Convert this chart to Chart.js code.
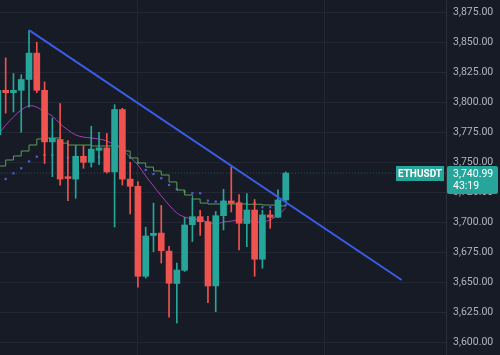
<!DOCTYPE html>
<html>
<head>
<meta charset="utf-8">
<script src="https://cdn.jsdelivr.net/npm/chart.js@4.4.1/dist/chart.umd.min.js"></script>
<style>
  html, body { margin: 0; padding: 0; background: #171b26; }
  #wrap { width: 500px; height: 355px; }
</style>
</head>
<body>
<div id="wrap"><canvas id="chart" width="500" height="355"></canvas></div>
<script>
const symbol = "ETHUSDT";
const countdown = "43:19";

// hourly candles, index 0 is partly cut off on the left
const opens  = [3773, 3810, 3808, 3810, 3819, 3841, 3810, 3767, 3769, 3738, 3736, 3755, 3750, 3760, 3762, 3742, 3794, 3736, 3730, 3655,
                3689, 3691, 3676, 3649, 3660, 3698, 3704.7, 3700.5, 3647, 3705.5, 3717.75, 3716.3, 3699, 3710.25, 3669.2, 3706.1, 3704.2, 3718.6];
const highs  = [3815, 3837, 3824, 3823, 3860, 3850, 3817, 3787, 3799, 3768, 3764, 3764, 3780, 3775, 3774, 3798, 3795, 3750, 3734, 3696,
                3716, 3714, 3680, 3666, 3704, 3720, 3710, 3705, 3709, 3727.5, 3746, 3723, 3724, 3719, 3710, 3710, 3727, 3742];
const lows   = [3766, 3791, 3792, 3775, 3796, 3808, 3749, 3738, 3731, 3718, 3720, 3745, 3746, 3748, 3741, 3696, 3731, 3707, 3646, 3653.5,
                3675.5, 3666, 3621, 3616, 3659, 3684, 3689, 3633, 3625.5, 3693.6, 3708.6, 3677, 3679.7, 3655, 3661.7, 3695, 3704, 3717];
const closes = [3810, 3808, 3810, 3819, 3841, 3810, 3767, 3770, 3736, 3736.5, 3755, 3750, 3761, 3762, 3742, 3794, 3736, 3730, 3655, 3688.6,
                3690.8, 3676.3, 3649.2, 3660.25, 3697.75, 3704.7, 3700.5, 3646.9, 3705.5, 3717.75, 3715.8, 3699.2, 3710.25, 3669.2, 3706.1, 3704.2, 3718.6, 3740.99];

// indicators
const maLine   = [3772.75, 3781, 3787.75, 3793.6, 3797, 3796, 3792, 3788.6, 3782, 3777, 3772.75, 3771, 3770.25, 3769.4, 3767.75, 3764.4, 3760.25, 3754.4, 3747.75, 3738.6,
                  3730.25, 3722, 3714.4, 3707.75, 3704.4, 3702.75, 3701.9, 3700.25, 3698.6, 3700.25, 3701, 3702, 3702, 3700.25, 3700.25, 3702, 3706, 3712];
const baseLine = [3746.9, 3751.9, 3755.25, 3759.4, 3764.4, 3769.4, 3770.25, 3770.25, 3766, 3764.4, 3764.4, 3764.4, 3763.6, 3763.6, 3763.6, 3763.6, 3759.4, 3753.6, 3749.4, 3746,
                  3742.75, 3739.4, 3733.6, 3726.9, 3722.75, 3719.4, 3716, 3715.25, 3715.25, 3715.25, 3715.25, 3715.25, 3715, 3715, 3714.4, 3714.4, 3713.6, 3713.6];
const sarDots  = [null, 3736.1, 3740.8, 3745, 3750.7, 3754.7, 3756.1, 3756.1, 3755.7, 3753.8, 3754.4, 3754.4, 3754.4, 3754.7, 3754.4, 3754.4, 3754.4, 3753.8, 3749.7, 3743.6,
                  3740.25, 3736.7, 3731.1, 3727.5, 3725.5, 3724.2, 3724.2, 3718, 3717.2, 3717.75, 3716.9, 3716.9, 3715.8, 3716.1, 3712.5, 3712.5, 3712.75, 3714.4];

// drawn trend line (candle index, price)
const trendX = [4, 51.9];
const trendY = [3860.2, 3651.9];

const priceTicks = [3600, 3625, 3650, 3675, 3700, 3725, 3750, 3775, 3800, 3825, 3850, 3875];
const dayLines = [18, 42];

const upColor = "#26a69a";
const downColor = "#ef5350";
const gridColor = "#232734";

const candleColors = closes.map((c, i) => c >= opens[i] ? upColor : downColor);
const bodies = closes.map((c, i) => ({ x: i, y: [Math.min(opens[i], c), Math.max(opens[i], c)] }));
const wicks = closes.map((c, i) => ({ x: i, y: [lows[i], highs[i]] }));
const lastPrice = closes[closes.length - 1];

const fmt = v => v.toLocaleString("en-US", { minimumFractionDigits: 2, maximumFractionDigits: 2 });

function noPadding(s) {
    s.paddingTop = 0;
    s.paddingBottom = 0;
    s.paddingLeft = 0;
    s.paddingRight = 0;
}

/* price tag on the right axis */
const priceTag = {
    id: "priceTag",
    afterDraw(chart) {
        const { ctx, chartArea, scales: { y } } = chart;
        const py = Math.round(y.getPixelForValue(lastPrice));
        ctx.save();
        ctx.fillStyle = upColor;
        ctx.fillRect(chartArea.right - 50, py - 7, 48, 15);
        ctx.beginPath();
        ctx.roundRect(chartArea.right + 1, py - 7, 51, 28, 2);
        ctx.fill();
        ctx.fillStyle = "#ffffff";
        ctx.textBaseline = "middle";
        ctx.font = "bold 10px Roboto";
        ctx.textAlign = "center";
        ctx.fillText(symbol, chartArea.right - 26, py + 1);
        ctx.font = "10.5px Roboto";
        ctx.textAlign = "left";
        ctx.fillText(fmt(lastPrice), chartArea.right + 7, py + 1);
        ctx.fillText(countdown, chartArea.right + 7, py + 13);
        ctx.restore();
    }
};

const ctx = document.getElementById("chart").getContext("2d");
new Chart(ctx, {
    type: "bar",
    data: {
        datasets: [
            {
                type: "line",
                data: trendX.map((x, i) => ({ x, y: trendY[i] })),
                borderColor: "#3a5ce6",
                borderWidth: 2,
                pointRadius: 0,
                order: 0
            },
            {
                data: bodies,
                backgroundColor: candleColors,
                barThickness: 6,
                minBarLength: 1.5,
                grouped: false,
                order: 1
            },
            {
                data: wicks,
                backgroundColor: candleColors,
                barThickness: 1,
                grouped: false,
                order: 2
            },
            {
                type: "line",
                data: maLine.map((y, x) => ({ x, y })),
                borderColor: "#a43fb8",
                borderWidth: 1,
                pointRadius: 0,
                tension: 0.35,
                order: 3
            },
            {
                type: "line",
                data: baseLine.map((y, x) => ({ x, y })),
                borderColor: "#5b9e55",
                borderWidth: 1,
                pointRadius: 0,
                stepped: true,
                order: 4
            },
            {
                type: "line",
                data: sarDots.map((y, x) => ({ x, y })),
                showLine: false,
                pointStyle: "rect",
                pointRadius: 1.6,
                pointBackgroundColor: "#4a5ed6",
                pointBorderWidth: 0,
                order: 5
            },
            {
                type: "line",
                data: [{ x: 0, y: lastPrice }, { x: 58, y: lastPrice }],
                borderColor: "rgba(38,166,154,0.45)",
                borderWidth: 1,
                borderDash: [1, 2],
                pointRadius: 0,
                order: 6
            }
        ]
    },
    options: {
        responsive: false,
        animation: false,
        layout: { padding: 0, autoPadding: false },
        plugins: {
            legend: { display: false },
            tooltip: { enabled: false }
        },
        scales: {
            x: {
                type: "linear",
                min: 0.27,
                max: 57.6,
                offset: false,
                grid: { color: gridColor, drawTicks: false, offset: false },
                border: { display: false },
                ticks: { display: false },
                afterBuildTicks: s => { s.ticks = dayLines.map(value => ({ value })); },
                afterFit: s => { noPadding(s); s.height = 0; }
            },
            y: {
                position: "right",
                min: 3589.4,
                max: 3885.25,
                grid: { color: gridColor, drawTicks: false },
                border: { display: true, color: "#2a2e39" },
                ticks: {
                    color: "#b2b5be",
                    font: { family: "Roboto", size: 10.5 },
                    padding: 7,
                    callback: v => fmt(v)
                },
                afterBuildTicks: s => { s.ticks = priceTicks.map(value => ({ value })); },
                afterFit: s => { noPadding(s); s.width = 54; }
            }
        }
    },
    plugins: [priceTag]
});
</script>
</body>
</html>
